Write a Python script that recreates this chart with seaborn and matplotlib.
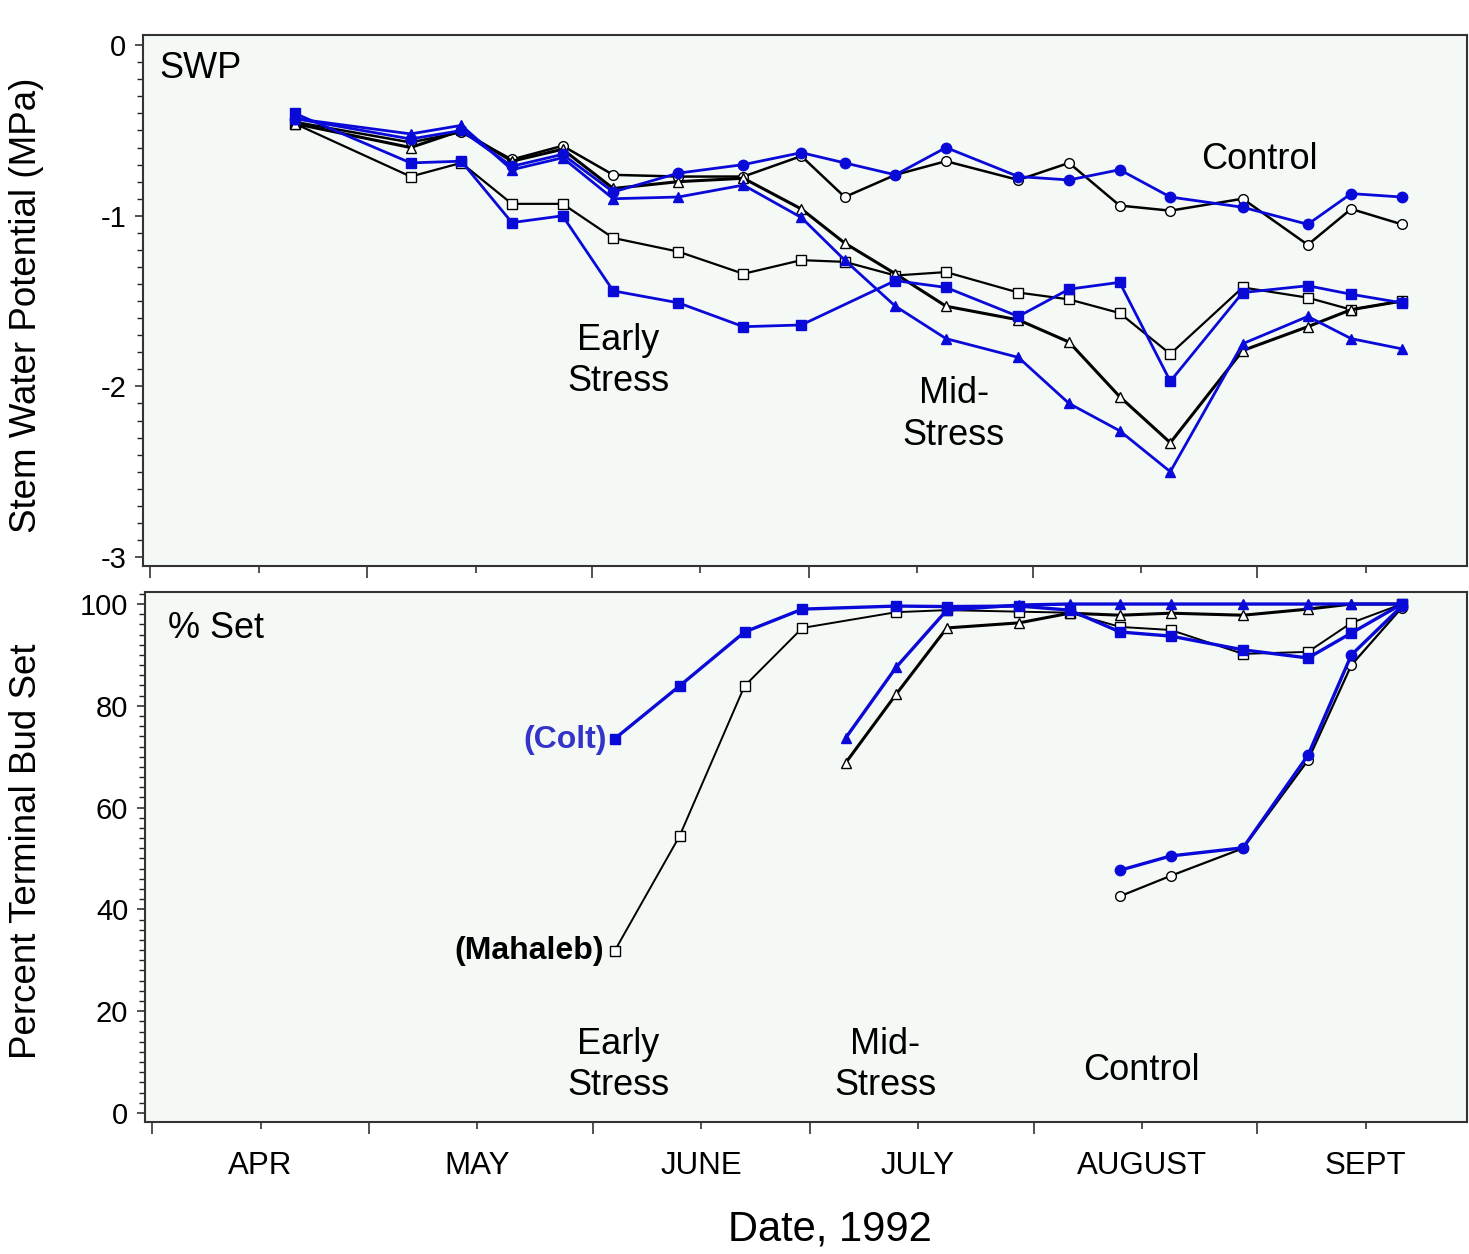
import numpy as np
import pandas as pd
import matplotlib
matplotlib.use("Agg")
import matplotlib.pyplot as plt
import matplotlib.dates as mdates
from matplotlib.ticker import MultipleLocator, FuncFormatter, NullFormatter
import seaborn as sns

# ---------------- data ----------------
dates = ['1992-04-21', '1992-05-07', '1992-05-14', '1992-05-21', '1992-05-28',
         '1992-06-04', '1992-06-13', '1992-06-22', '1992-06-30', '1992-07-06',
         '1992-07-13', '1992-07-20', '1992-07-30', '1992-08-06', '1992-08-13',
         '1992-08-20', '1992-08-30', '1992-09-08', '1992-09-14', '1992-09-21']

nan = np.nan
# Stem water potential (MPa)
swp_control_mahaleb = [-0.45, -0.57, -0.51, -0.67, -0.59, -0.76, -0.77, -0.77, -0.65, -0.89,
                       -0.76, -0.68, -0.79, -0.69, -0.94, -0.97, -0.90, -1.17, -0.96, -1.05]
swp_control_colt = [-0.43, -0.55, -0.50, -0.71, -0.64, -0.86, -0.75, -0.70, -0.63, -0.69,
                    -0.76, -0.60, -0.77, -0.79, -0.73, -0.89, -0.95, -1.05, -0.87, -0.89]
swp_early_mahaleb = [-0.46, -0.77, -0.69, -0.93, -0.93, -1.13, -1.21, -1.34, -1.26, -1.27,
                     -1.35, -1.33, -1.45, -1.49, -1.57, -1.81, -1.42, -1.48, -1.55, -1.50]
swp_early_colt = [-0.40, -0.69, -0.68, -1.04, -1.00, -1.44, -1.51, -1.65, -1.64, nan,
                  -1.38, -1.42, -1.59, -1.43, -1.39, -1.97, -1.45, -1.41, -1.46, -1.51]
swp_mid_mahaleb = [-0.46, -0.60, -0.50, -0.68, -0.61, -0.84, -0.80, -0.78, -0.96, -1.16,
                   -1.34, -1.53, -1.61, -1.74, -2.06, -2.33, -1.79, -1.65, -1.55, -1.50]
swp_mid_colt = [-0.43, -0.52, -0.47, -0.73, -0.66, -0.90, -0.89, -0.82, -1.01, -1.26,
                -1.53, -1.72, -1.83, -2.10, -2.26, -2.50, -1.75, -1.59, -1.72, -1.78]

# Percent terminal bud set
set_control_mahaleb = [nan] * 14 + [42.6, 46.6, 52.0, 69.3, 88.0, 99.3]
set_control_colt = [nan] * 14 + [47.7, 50.5, 52.1, 70.3, 90.0, 99.6]
set_early_mahaleb = [nan] * 5 + [31.8, 54.4, 83.9, 95.3, nan, 98.4, 98.8, 98.5, 98.3,
                                 95.5, 94.9, 90.2, 90.6, 96.3, 100.0]
set_early_colt = [nan] * 5 + [73.5, 83.9, 94.5, 99.0, nan, 99.6, 99.5, 99.6, 98.8,
                              94.5, 93.7, 91.0, 89.4, 94.3, 100.0]
set_mid_mahaleb = [nan] * 9 + [68.8, 82.3, 95.3, 96.3, 98.2, 97.8, 98.2, 97.8, 99.0, 100.0, 100.0]
set_mid_colt = [nan] * 9 + [73.7, 87.6, 98.8, 99.8, 100.0, 100.0, 100.0, 100.0, 100.0, 100.0, 100.0]

month_labels = ['APR', 'MAY', 'JUNE', 'JULY', 'AUGUST', 'SEPT']

# ---------------- style ----------------
sns.set_style("ticks")
plt.rcParams['font.family'] = ['Liberation Sans', 'DejaVu Sans']
plt.rcParams['axes.unicode_minus'] = False
plt.rcParams['text.color'] = 'black'
plt.rcParams['axes.labelcolor'] = 'black'
plt.rcParams['xtick.color'] = 'black'
plt.rcParams['ytick.color'] = 'black'
plt.rcParams['xtick.labelcolor'] = 'black'
plt.rcParams['ytick.labelcolor'] = 'black'

BLUE = '#0a0ad8'
FACE = '#f5f9f6'

fig = plt.figure(figsize=(14.69, 12.54), dpi=100)
fig.patch.set_facecolor('white')
ax1 = fig.add_axes([0.0973, 0.5486, 0.9013, 0.4234])
ax2 = fig.add_axes([0.0987, 0.1053, 0.8999, 0.4226])

date_idx = pd.to_datetime(dates)


def draw(ax, values, stock, marker, lw=None):
    df = pd.DataFrame({'date': date_idx, 'value': values}).dropna()
    if stock == 'mahaleb':
        kw = dict(color='black', markerfacecolor='white', markeredgecolor='black',
                  markeredgewidth=1.0, markersize=7, linewidth=lw or 1.8)
    else:
        kw = dict(color=BLUE, markerfacecolor=BLUE, markeredgecolor=BLUE,
                  markeredgewidth=1.0, markersize=7.5, linewidth=lw or 2.0)
    sns.lineplot(data=df, x='date', y='value', ax=ax, marker=marker,
                 estimator=None, sort=False, **kw)


# top panel
draw(ax1, swp_early_mahaleb, 'mahaleb', 's', 1.6)
draw(ax1, swp_control_mahaleb, 'mahaleb', 'o', 1.8)
draw(ax1, swp_mid_mahaleb, 'mahaleb', '^', 2.2)
draw(ax1, swp_early_colt, 'colt', 's')
draw(ax1, swp_control_colt, 'colt', 'o')
draw(ax1, swp_mid_colt, 'colt', '^')

# bottom panel
draw(ax2, set_early_mahaleb, 'mahaleb', 's', 1.4)
draw(ax2, set_mid_mahaleb, 'mahaleb', '^', 2.2)
draw(ax2, set_control_mahaleb, 'mahaleb', 'o', 1.6)
draw(ax2, set_early_colt, 'colt', 's', 2.4)
draw(ax2, set_mid_colt, 'colt', '^', 2.4)
draw(ax2, set_control_colt, 'colt', 'o', 2.4)

xmin, xmax = pd.Timestamp('1992-03-31'), pd.Timestamp('1992-09-30')
for ax in (ax1, ax2):
    ax.set_facecolor(FACE)
    ax.set_xlim(xmin, xmax)
    ax.xaxis.set_major_locator(mdates.MonthLocator())
    ax.xaxis.set_minor_locator(mdates.MonthLocator(bymonthday=16))
    ax.xaxis.set_major_formatter(NullFormatter())
    ax.tick_params(axis='x', which='major', direction='out', length=8.6, width=1.1, color='#222222')
    ax.tick_params(axis='x', which='minor', direction='out', length=5, width=1.1, color='#222222')
    ax.tick_params(axis='y', which='major', direction='out', length=6, width=1.1,
                   labelsize=21, pad=6, color='#222222', labelcolor='black')
    ax.tick_params(axis='y', which='minor', direction='out', length=4, width=1.0, color='#222222')
    for sp in ax.spines.values():
        sp.set_visible(True)
        sp.set_linewidth(1.5)
        sp.set_color('#333333')
    ax.set_xlabel('')
    ax.set_ylabel('')

ax1.xaxis.set_minor_formatter(NullFormatter())
ax2.xaxis.set_minor_formatter(FuncFormatter(
    lambda v, p: month_labels[mdates.num2date(v).month - 4]
    if 4 <= mdates.num2date(v).month <= 9 else ''))
ax2.tick_params(axis='x', which='minor', labelsize=22.5, pad=16, labelcolor='black')

ax1.set_ylim(-3.053, 0.059)
ax1.yaxis.set_major_locator(MultipleLocator(1))
ax1.yaxis.set_minor_locator(MultipleLocator(0.1))
ax1.yaxis.set_major_formatter(FuncFormatter(lambda v, p: f"{int(round(v))}"))

ax2.set_ylim(-1.77, 102.36)
ax2.yaxis.set_major_locator(MultipleLocator(20))
ax2.yaxis.set_minor_locator(MultipleLocator(2))
ax2.yaxis.set_major_formatter(FuncFormatter(lambda v, p: f"{int(round(v))}"))

# axis labels
ax1.set_ylabel('Stem Water Potential (MPa)', fontsize=26.5, color='black')
ax1.yaxis.set_label_coords(-0.0876, 0.4915)
ax1.yaxis.label.set_verticalalignment('center')
ax2.set_ylabel('Percent Terminal Bud Set', fontsize=26.5, color='black')
ax2.yaxis.set_label_coords(-0.0893, 0.5113)
ax2.yaxis.label.set_verticalalignment('center')
ax2.set_xlabel('Date, 1992', fontsize=30, color='black')
ax2.xaxis.set_label_coords(0.518, -0.2038)
ax2.xaxis.label.set_verticalalignment('center')

# annotations
T = dict(fontsize=26, color='black', va='center')
ax1.text(0.0128, 0.938, 'SWP', transform=ax1.transAxes, ha='left', **T)
ax1.text(0.843, 0.765, 'Control', transform=ax1.transAxes, ha='center', **T)
ax1.text(0.359, 0.386, 'Early\nStress', transform=ax1.transAxes, ha='center',
         multialignment='center', linespacing=1.25, **T)
ax1.text(0.6125, 0.285, 'Mid-\nStress', transform=ax1.transAxes, ha='center',
         multialignment='center', linespacing=1.25, **T)

ax2.text(0.0174, 0.932, '% Set', transform=ax2.transAxes, ha='left', **T)
ax2.text(0.358, 0.1075, 'Early\nStress', transform=ax2.transAxes, ha='center',
         multialignment='center', linespacing=1.25, **T)
ax2.text(0.5598, 0.1075, 'Mid-\nStress', transform=ax2.transAxes, ha='center',
         multialignment='center', linespacing=1.25, **T)
ax2.text(0.7534, 0.098, 'Control', transform=ax2.transAxes, ha='center', **T)
ax2.text(0.3495, 0.721, '(Colt)', transform=ax2.transAxes, ha='right', va='center',
         fontsize=23, fontweight='bold', color='#3434c8')
ax2.text(0.347, 0.3226, '(Mahaleb)', transform=ax2.transAxes, ha='right', va='center',
         fontsize=23, fontweight='bold', color='black')

fig.savefig('out.png', dpi=100, facecolor='white')
